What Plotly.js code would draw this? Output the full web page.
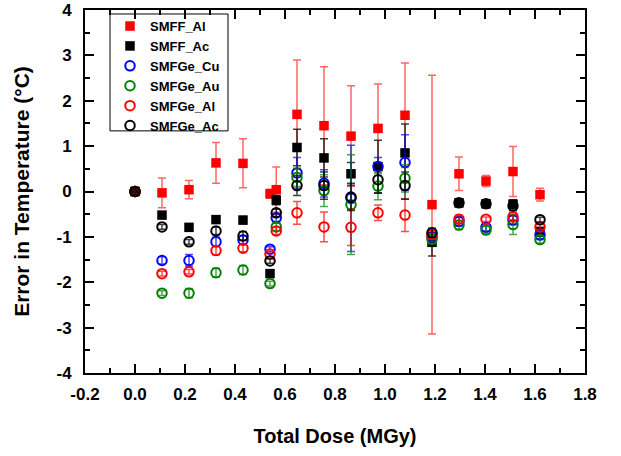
<!DOCTYPE html>
<html>
<head>
<meta charset="utf-8">
<script src="https://cdn.plot.ly/plotly-3.0.1.min.js"></script>
<style>html,body{margin:0;padding:0;background:#fff;}#chart{width:621px;height:456px;}</style>
</head>
<body>
<div id="chart"></div>
<script>
var dose = [0, 0.108, 0.216, 0.324, 0.432, 0.54, 0.565, 0.648, 0.756, 0.864, 0.972, 1.08, 1.188, 1.296, 1.404, 1.512, 1.62];

var smffAl    = [0, -0.03, 0.04, 0.63, 0.62, -0.05, 0.04, 1.70, 1.45, 1.22, 1.39, 1.68, -0.29, 0.39, 0.23, 0.44, -0.07];
var smffAlErr = [0.05, 0.33, 0.2, 0.45, 0.54, 0.1, 0.5, 1.2, 1.3, 1.11, 0.98, 1.15, 2.85, 0.37, 0.12, 0.55, 0.14];

var smffAc    = [0, -0.52, -0.79, -0.62, -0.63, -1.81, -0.19, 0.97, 0.74, 0.39, 0.55, 0.85, -1.12, -0.25, -0.27, -0.28, -0.89];
var smffAcErr = [0.03, 0.05, 0.08, 0.08, 0.08, 0.05, 0.1, 0.4, 0.42, 0.25, 0.58, 0.64, 0.3, 0.08, 0.08, 0.1, 0.1];

var geCu    = [0, -1.52, -1.52, -1.11, -1.07, -1.27, -0.58, 0.41, 0.18, -0.15, 0.55, 0.64, -1.0, -0.66, -0.79, -0.63, -0.96];
var geCuErr = [0.03, 0.08, 0.13, 0.1, 0.1, 0.05, 0.08, 0.34, 0.3, 1.17, 0.2, 0.61, 0.1, 0.1, 0.08, 0.1, 0.08];

var geAu    = [0, -2.24, -2.24, -1.79, -1.73, -2.03, -0.78, 0.31, 0.02, -0.29, 0.12, 0.29, -1.05, -0.74, -0.85, -0.73, -1.06];
var geAuErr = [0.03, 0.05, 0.1, 0.1, 0.1, 0.05, 0.08, 0.2, 0.35, 1.1, 0.3, 0.3, 0.1, 0.1, 0.08, 0.22, 0.08];

var geAl    = [0, -1.81, -1.77, -1.30, -1.25, -1.38, -0.87, -0.47, -0.78, -0.79, -0.47, -0.52, -0.95, -0.61, -0.61, -0.56, -0.78];
var geAlErr = [0.03, 0.05, 0.05, 0.1, 0.08, 0.05, 0.08, 0.25, 0.33, 0.4, 0.17, 0.36, 0.1, 0.08, 0.05, 0.1, 0.05];

var geAc    = [0, -0.78, -1.11, -0.87, -0.98, -1.53, -0.47, 0.13, 0.13, -0.12, 0.26, 0.13, -0.91, -0.25, -0.27, -0.32, -0.62];
var geAcErr = [0.03, 0.05, 0.05, 0.08, 0.1, 0.05, 0.08, 0.22, 0.3, 0.3, 0.3, 0.3, 0.1, 0.08, 0.08, 0.1, 0.05];

var xTicks = [-0.2, 0.0, 0.2, 0.4, 0.6, 0.8, 1.0, 1.2, 1.4, 1.6, 1.8];
var xTickText = ['-0.2', '0.0', '0.2', '0.4', '0.6', '0.8', '1.0', '1.2', '1.4', '1.6', '1.8'];
var yTicks = [-4, -3, -2, -1, 0, 1, 2, 3, 4];
var yTickText = ['-4', '-3', '-2', '-1', '0', '1', '2', '3', '4'];

function bold(arr) { return arr.map(function (s) { return '<b>' + s + '</b>'; }); }

function mk(name, y, err, symbol, color, errColor) {
  var open = symbol.indexOf('open') >= 0;
  return {
    type: 'scatter', mode: 'markers', name: '<b>' + name + '</b>', x: dose, y: y,
    error_y: {type: 'data', array: err, visible: true, color: errColor, thickness: 1.5, width: 4},
    marker: {symbol: symbol, size: open ? 9.5 : 9.5, color: color, line: {color: color, width: open ? 2 : 0}}
  };
}

var data = [
  mk('SMFF_Al', smffAl, smffAlErr, 'square', '#ff0000', 'rgba(255,0,0,0.6)'),
  mk('SMFF_Ac', smffAc, smffAcErr, 'square', '#000000', 'rgba(0,0,0,0.75)'),
  mk('SMFGe_Cu', geCu, geCuErr, 'circle-open', '#0000ff', 'rgba(0,0,255,0.7)'),
  mk('SMFGe_Au', geAu, geAuErr, 'circle-open', '#008000', 'rgba(0,128,0,0.7)'),
  mk('SMFGe_Al', geAl, geAlErr, 'circle-open', '#ff0000', 'rgba(255,0,0,0.7)'),
  mk('SMFGe_Ac', geAc, geAcErr, 'circle-open', '#000000', 'rgba(0,0,0,0.75)')
];

var FF = 'Liberation Sans, Arial, sans-serif';

var layout = {
  width: 621, height: 456,
  margin: {l: 85, r: 36, t: 10, b: 83},
  paper_bgcolor: '#fff', plot_bgcolor: '#fff',
  showlegend: true,
  font: {family: FF, color: '#000'},
  xaxis: {
    range: [-0.2, 1.8], tickvals: xTicks, ticktext: bold(xTickText),
    ticks: 'inside', ticklen: 9, tickwidth: 2, tickcolor: '#000',
    minor: {dtick: 0.1, tick0: 0, ticks: 'inside', ticklen: 5, tickwidth: 2, tickcolor: '#000'},
    showline: true, linewidth: 2, linecolor: '#000', mirror: 'allticks',
    showgrid: false, zeroline: false, ticklabelstandoff: 5, ticklabeloverflow: 'allow',
    tickfont: {family: FF, size: 17, color: '#000'},
    title: {text: '<b>Total Dose (MGy)</b>', font: {family: FF, size: 20, color: '#000'}, standoff: 26}
  },
  yaxis: {
    range: [-4, 4], tickvals: yTicks, ticktext: bold(yTickText),
    ticks: 'inside', ticklen: 9, tickwidth: 2, tickcolor: '#000',
    minor: {dtick: 0.5, tick0: 0, ticks: 'inside', ticklen: 5, tickwidth: 2, tickcolor: '#000'},
    showline: true, linewidth: 2, linecolor: '#000', mirror: 'allticks',
    showgrid: false, zeroline: false, ticklabelstandoff: 8, ticklabeloverflow: 'allow',
    tickfont: {family: FF, size: 17, color: '#000'},
    title: {text: '<b>Error in Temperature (°C)</b>', font: {family: FF, size: 21, color: '#000'}, standoff: 21}
  },
  legend: {
    x: 0.05, y: 0.997, xanchor: 'left', yanchor: 'top',
    bgcolor: 'rgba(0,0,0,0)', bordercolor: 'rgba(0,0,0,0)', borderwidth: 0,
    font: {family: FF, size: 13, color: '#000'},
    tracegroupgap: 0, itemwidth: 30
  },
  shapes: [{
    type: 'rect', xref: 'paper', yref: 'paper', layer: 'below',
    x0: 0.05, x1: 0.286, y0: 0.667, y1: 0.989,
    line: {color: '#000', width: 1}, fillcolor: '#fff'
  }]
};

Plotly.newPlot('chart', data, layout, {displayModeBar: false, staticPlot: true});
</script>
</body>
</html>
